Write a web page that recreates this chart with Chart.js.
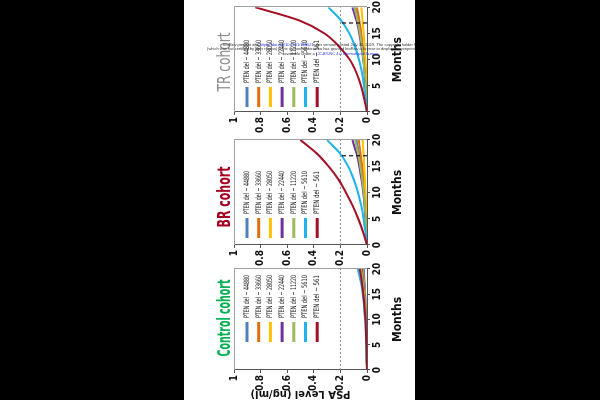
<!DOCTYPE html>
<html>
<head>
<meta charset="utf-8">
<script src="https://cdn.jsdelivr.net/npm/chart.js@4.4.1/dist/chart.umd.min.js"></script>
<style>
  body { margin: 0; width: 600px; height: 400px; background: #000; overflow: hidden; position: relative; }
  #paper { position: absolute; left: 184px; top: 0; width: 231px; height: 400px; background: #fff; overflow: hidden; }
  /* the figure is drawn upright and then turned a quarter turn to the left */
  #figure { position: absolute; left: 0; top: 0; width: 400px; height: 230px;
            transform-origin: 0 0; transform: translate(185px, 400px) rotate(-90deg); }
  #figure canvas { position: absolute; top: 0; }
  #stamp { position: absolute; left: 8px; top: 43px; width: 280px; font: 4px "Liberation Sans", Arial, sans-serif;
           line-height: 4.4px; color: #333; text-align: center; white-space: nowrap; z-index: 5; }
  #stamp span { color: #2233ee; }
</style>
</head>
<body>
<div id="paper"></div>
<div id="figure">
  <canvas id="controlChart" width="140" height="230" style="left:0px"></canvas>
  <canvas id="brChart" width="142" height="230" style="left:128px"></canvas>
  <canvas id="trChart" width="138" height="230" style="left:262px"></canvas>
</div>
<div style="position:absolute;left:184px;top:0;width:231px;height:400px;overflow:hidden;z-index:5">
  <div id="stamp">
    bioRxiv preprint doi: <span>https://doi.org/10.1101/719021</span>; this version posted July 30, 2019. The copyright holder for this preprint<br>
    (which was not certified by peer review) is the author/funder, who has granted bioRxiv a license to display the preprint in perpetuity. It is made<br>
    available under a<span> CC-BY-NC 4.0 International license</span>.
  </div>
</div>
<script>
// months sampled along each simulated PSA curve
const months = [0, 2.5, 5, 7.5, 10, 12.5, 15, 17.5, 20];
const monthTicks = [0, 5, 10, 15, 20];
const psaTicks = [0, 0.2, 0.4, 0.6, 0.8, 1];

const seriesLabels = ['PTEN del \u2212 44880', 'PTEN del \u2212 33660', 'PTEN del \u2212 28050',
                      'PTEN del \u2212 22440', 'PTEN del \u2212 11220', 'PTEN del \u2212 5610', 'PTEN del \u2212 561'];
const seriesColors = ['#4f81bd', '#e46c0a', '#ffc000', '#7030a0', '#9bbb59', '#1fb4ea', '#a50f25'];

// PSA level (ng/ml), one row per series, same order as seriesLabels
const controlPSA = [
    [0, 0.001, 0.002, 0.004, 0.006, 0.009, 0.013, 0.018, 0.025],
    [0, 0.001, 0.003, 0.005, 0.008, 0.012, 0.017, 0.024, 0.033],
    [0, 0.001, 0.003, 0.005, 0.008, 0.012, 0.018, 0.025, 0.035],
    [0, 0.002, 0.003, 0.006, 0.009, 0.014, 0.020, 0.028, 0.040],
    [0, 0.002, 0.004, 0.006, 0.010, 0.015, 0.022, 0.031, 0.045],
    [0, 0.002, 0.005, 0.009, 0.014, 0.022, 0.032, 0.048, 0.070],
    [0, 0.002, 0.004, 0.008, 0.012, 0.019, 0.028, 0.039, 0.055]
];
const brPSA = [
    [0, 0.004, 0.009, 0.015, 0.023, 0.033, 0.046, 0.062, 0.080],
    [0, 0.003, 0.007, 0.012, 0.018, 0.026, 0.036, 0.048, 0.062],
    [0, 0.002, 0.004, 0.007, 0.011, 0.015, 0.020, 0.026, 0.033],
    [0, 0.005, 0.011, 0.019, 0.029, 0.042, 0.058, 0.080, 0.110],
    [0, 0.004, 0.010, 0.017, 0.025, 0.036, 0.050, 0.068, 0.090],
    [0, 0.012, 0.026, 0.044, 0.068, 0.100, 0.142, 0.205, 0.300],
    [0, 0.030, 0.066, 0.108, 0.158, 0.215, 0.290, 0.380, 0.500]
];
const trPSA = [
    [0, 0.004, 0.009, 0.016, 0.025, 0.036, 0.050, 0.068, 0.090],
    [0, 0.003, 0.008, 0.014, 0.021, 0.031, 0.043, 0.058, 0.075],
    [0, 0.002, 0.005, 0.008, 0.012, 0.018, 0.025, 0.033, 0.043],
    [0, 0.005, 0.011, 0.019, 0.029, 0.042, 0.058, 0.080, 0.110],
    [0, 0.004, 0.010, 0.017, 0.026, 0.038, 0.053, 0.072, 0.095],
    [0, 0.010, 0.022, 0.038, 0.060, 0.090, 0.132, 0.195, 0.290],
    [0, 0.020, 0.045, 0.080, 0.130, 0.210, 0.320, 0.510, 0.840]
];

const psaThreshold = 0.2;   // dotted grey line
const crossMonth = 17;      // black dashed marker

const narrow = '"Liberation Sans Narrow", "DejaVu Sans Condensed", sans-serif';

// draw text squeezed along its length so it fits a given span (the figure uses a very condensed face)
function squeezedText(ctx, text, x, y, span) {
    const w = ctx.measureText(text).width;
    ctx.save();
    ctx.translate(x, y);
    ctx.scale(Math.min(1, span / w), 1);
    ctx.fillText(text, 0, 0);
    ctx.restore();
}

// title and inside legend, plus the light frame on the top / right
const panelPlugin = {
    id: 'panel',
    afterDraw(chart, args, opts) {
        const ctx = chart.ctx;
        const a = chart.chartArea;
        ctx.save();
        ctx.strokeStyle = '#a0a0a0';
        ctx.lineWidth = 1;
        ctx.beginPath();
        ctx.moveTo(a.left, Math.round(a.top) + 0.5);
        ctx.lineTo(Math.round(a.right) + 0.5, Math.round(a.top) + 0.5);
        ctx.lineTo(Math.round(a.right) + 0.5, a.bottom);
        ctx.stroke();

        ctx.fillStyle = opts.color;
        ctx.font = (opts.bold ? 'bold ' : '') + '18px ' + narrow;
        ctx.textAlign = 'center';
        ctx.textBaseline = 'alphabetic';
        squeezedText(ctx, opts.title, opts.titleX, 45, opts.titleSpan);
        ctx.restore();

        ctx.save();
        ctx.font = '7.5px ' + narrow;
        ctx.textBaseline = 'middle';
        ctx.textAlign = 'left';
        seriesLabels.forEach(function (label, i) {
            const y = 62 + i * 11.7;
            const x = a.left + opts.legendX;
            ctx.strokeStyle = seriesColors[i];
            ctx.lineWidth = 3;
            ctx.beginPath();
            ctx.moveTo(x, y);
            ctx.lineTo(x + 20, y);
            ctx.stroke();
            ctx.fillStyle = '#111';
            squeezedText(ctx, label, x + 24, y, 43);
        });
        ctx.restore();
    }
};

function buildDatasets(rows, withMarker) {
    const sets = rows.map(function (row, i) {
        return {
            label: seriesLabels[i],
            data: row.map(function (v, j) { return { x: months[j], y: v }; }),
            borderColor: seriesColors[i],
            borderWidth: 2,
            pointRadius: 0,
            fill: false,
            cubicInterpolationMode: 'monotone',
            order: rows.length - i
        };
    });
    sets.push({
        label: 'threshold',
        data: [{ x: 0, y: psaThreshold }, { x: 20, y: psaThreshold }],
        borderColor: '#8a8a8a', borderWidth: 1, borderDash: [2, 2], pointRadius: 0, order: 20
    });
    if (withMarker) {
        sets.push({
            label: 'cross',
            data: [{ x: crossMonth, y: 0 }, { x: crossMonth, y: psaThreshold }],
            borderColor: '#111', borderWidth: 1.2, borderDash: [4, 3], pointRadius: 0, order: 0
        });
    }
    return sets;
}

function renderPanel(id, rows, cfg) {
    const ctx = document.getElementById(id).getContext('2d');
    new Chart(ctx, {
        type: 'line',
        data: { datasets: buildDatasets(rows, cfg.marker) },
        plugins: [panelPlugin],
        options: {
            responsive: false,
            animation: false,
            layout: { padding: { top: 49, right: cfg.padRight, left: 0, bottom: 0 } },
            plugins: {
                legend: { display: false },
                tooltip: { enabled: false },
                panel: { title: cfg.title, color: cfg.color, bold: cfg.bold, legendX: cfg.legendX,
                         titleX: cfg.titleX, titleSpan: cfg.titleSpan }
            },
            scales: {
                x: {
                    type: 'linear', min: 0, max: 20,
                    afterBuildTicks: function (s) { s.ticks = monthTicks.map(function (v) { return { value: v }; }); },
                    afterFit: function (s) { s.height = 48; },
                    grid: { drawOnChartArea: false, tickLength: 3, color: '#555' },
                    border: { color: '#555' },
                    ticks: { maxRotation: 0, padding: 1, color: '#111', font: { family: narrow, size: 10, weight: 'bold' } },
                    title: { display: true, text: 'Months', color: '#111', padding: { top: 0, bottom: 10 },
                             font: { family: narrow, size: 12, weight: 'bold' } }
                },
                y: {
                    min: 0, max: 1,
                    afterBuildTicks: function (s) { s.ticks = psaTicks.map(function (v) { return { value: v }; }); },
                    afterFit: function (s) { s.width = cfg.axisWidth; },
                    grid: { drawOnChartArea: false, tickLength: 3, color: '#555' },
                    border: { color: '#555' },
                    ticks: { padding: 2, color: '#111', font: { family: narrow, size: 10, weight: 'bold' },
                             callback: function (v) { return String(Math.round(v * 10) / 10); } },
                    title: { display: cfg.yTitle, text: 'PSA Level (ng/ml)', color: '#111', padding: 0,
                             font: { family: '"DejaVu Sans", sans-serif', size: 10, weight: 'bold' } }
                }
            }
        }
    });
}

renderPanel('controlChart', controlPSA, { title: 'Control cohort', color: '#00b050', bold: true, marker: false,
    legendX: 28, axisWidth: 30, padRight: 9, yTitle: true, titleX: 82, titleSpan: 77 });
renderPanel('brChart', brPSA, { title: 'BR cohort', color: '#a50021', bold: true, marker: true,
    legendX: 7, axisWidth: 27, padRight: 10, yTitle: false, titleX: 75, titleSpan: 61 });
renderPanel('trChart', trPSA, { title: 'TR cohort', color: '#8c8c8c', bold: false, marker: true,
    legendX: 5, axisWidth: 26, padRight: 5, yTitle: false, titleX: 76, titleSpan: 59 });
</script>
</body>
</html>
